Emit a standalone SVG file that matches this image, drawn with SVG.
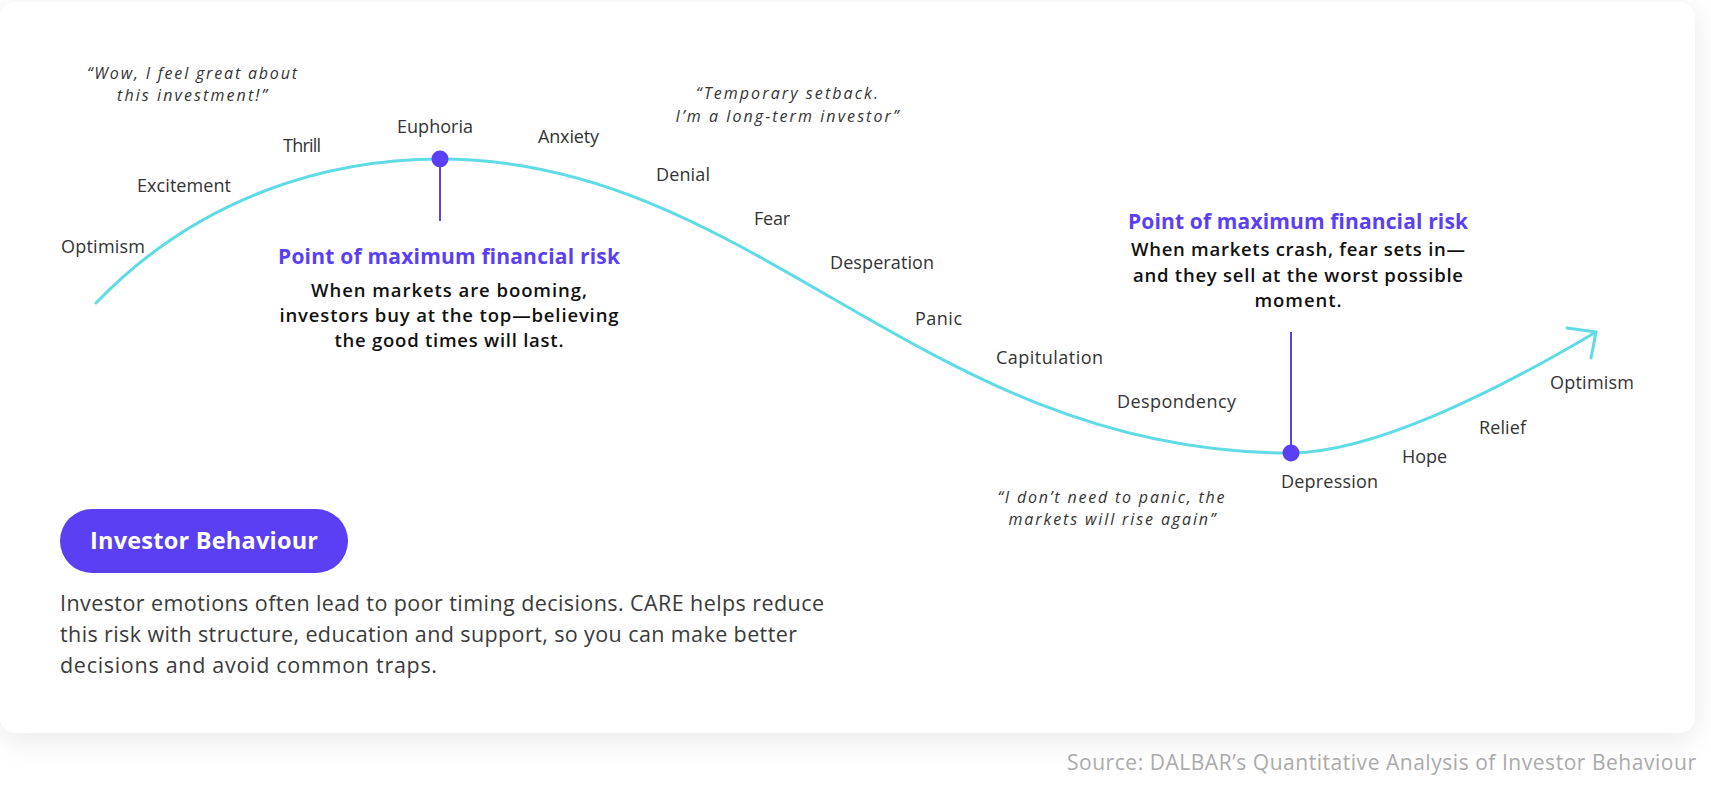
<svg xmlns="http://www.w3.org/2000/svg" width="1711" height="786" viewBox="0 0 1711 786">
<defs>
<style>
.lbl{font-family:"Open Sans","Noto Sans",sans-serif;font-size:18px;fill:#333;}
.quote{font-family:"Open Sans","Noto Sans",sans-serif;font-size:16px;font-style:italic;fill:#333;text-anchor:middle;}
.risk{font-family:"Open Sans","Noto Sans",sans-serif;font-size:21px;font-weight:700;fill:#5a3ff5;text-anchor:middle;}
.desc{font-family:"Open Sans","Noto Sans",sans-serif;font-size:18.5px;font-weight:600;fill:#111;text-anchor:middle;}
.para{font-family:"Open Sans","Noto Sans",sans-serif;font-size:21.5px;fill:#3a3a3a;}
.src{font-family:"Open Sans","Noto Sans",sans-serif;font-size:21px;fill:#aaaaaa;text-anchor:end;}
.curve{fill:none;stroke:#5fdbe5;stroke-width:3;stroke-linecap:round;stroke-linejoin:round;}
.stem{stroke:#5a3ff5;stroke-width:2;}
.dot{fill:#5a3ff5;}
</style>
<filter id="shadow" x="-5%" y="-10%" width="110%" height="125%">
<feDropShadow dx="0" dy="6" stdDeviation="14" flood-color="#000" flood-opacity="0.09"/>
</filter>
</defs>
<rect width="1711" height="786" fill="#ffffff"/>
<rect id="card" x="0" y="2" width="1695" height="731" rx="16" fill="#ffffff" filter="url(#shadow)"/>

<g id="connectors">
<path class="curve" d="M96,303 C200,195 330,159 440,159 C755,159 924,453 1290,453 C1370,453 1490,395 1596,332"/>
<polyline class="curve" points="1567,328 1596,332 1591,358"/>
</g>

<g id="quotes">
<text class="quote" x="192" y="79" textLength="210">“Wow, I feel great about</text>
<text class="quote" x="192" y="101" textLength="150">this investment!”</text>
<text class="quote" x="787" y="99" textLength="182">“Temporary setback.</text>
<text class="quote" x="787" y="122" textLength="223">I’m a long-term investor”</text>
<text class="quote" x="1111" y="503" textLength="227">“I don’t need to panic, the</text>
<text class="quote" x="1112" y="525" textLength="207">markets will rise again”</text>
</g>

<g id="labels">
<text class="lbl" x="61" y="253" textLength="84">Optimism</text>
<text class="lbl" x="137" y="192" textLength="94">Excitement</text>
<text class="lbl" x="283" y="152" textLength="38">Thrill</text>
<text class="lbl" x="397" y="133" textLength="76">Euphoria</text>
<text class="lbl" x="538" y="143" textLength="61">Anxiety</text>
<text class="lbl" x="656" y="181" textLength="54">Denial</text>
<text class="lbl" x="754" y="225" textLength="36">Fear</text>
<text class="lbl" x="830" y="269" textLength="104">Desperation</text>
<text class="lbl" x="915" y="325" textLength="47">Panic</text>
<text class="lbl" x="996" y="364" textLength="107">Capitulation</text>
<text class="lbl" x="1117" y="408" textLength="119">Despondency</text>
<text class="lbl" x="1281" y="488" textLength="97">Depression</text>
<text class="lbl" x="1402" y="463" textLength="45">Hope</text>
<text class="lbl" x="1479" y="434" textLength="47">Relief</text>
<text class="lbl" x="1550" y="389" textLength="84">Optimism</text>
</g>

<g id="risk-top">
<line class="stem" x1="440" y1="159" x2="440" y2="221"/>
<circle class="dot" cx="440" cy="159" r="8.5"/>
<text class="risk" x="449" y="264" textLength="342">Point of maximum financial risk</text>
<text class="desc" x="449" y="297" textLength="276">When markets are booming,</text>
<text class="desc" x="449" y="322" textLength="339">investors buy at the top—believing</text>
<text class="desc" x="449" y="347" textLength="229">the good times will last.</text>
</g>

<g id="risk-bottom">
<line class="stem" x1="1291" y1="332" x2="1291" y2="453"/>
<circle class="dot" cx="1291" cy="453" r="8.5"/>
<text class="risk" x="1298" y="229" textLength="340">Point of maximum financial risk</text>
<text class="desc" x="1298" y="256" textLength="334">When markets crash, fear sets in—</text>
<text class="desc" x="1298" y="282" textLength="330">and they sell at the worst possible</text>
<text class="desc" x="1298" y="307" textLength="87">moment.</text>
</g>

<g id="pill">
<rect x="60" y="509" width="288" height="64" rx="32" fill="#5a3ff5"/>
<text x="204" y="549" font-family="'Open Sans','Noto Sans',sans-serif" font-size="23.5" font-weight="700" fill="#ffffff" text-anchor="middle" textLength="228">Investor Behaviour</text>
</g>

<g id="paragraph">
<text class="para" x="60" y="611" textLength="764">Investor emotions often lead to poor timing decisions. CARE helps reduce</text>
<text class="para" x="60" y="642" textLength="737">this risk with structure, education and support, so you can make better</text>
<text class="para" x="60" y="673" textLength="377">decisions and avoid common traps.</text>
</g>

<g id="source">
<text class="src" x="1696" y="770" textLength="629">Source: DALBAR’s Quantitative Analysis of Investor Behaviour</text>
</g>
</svg>
